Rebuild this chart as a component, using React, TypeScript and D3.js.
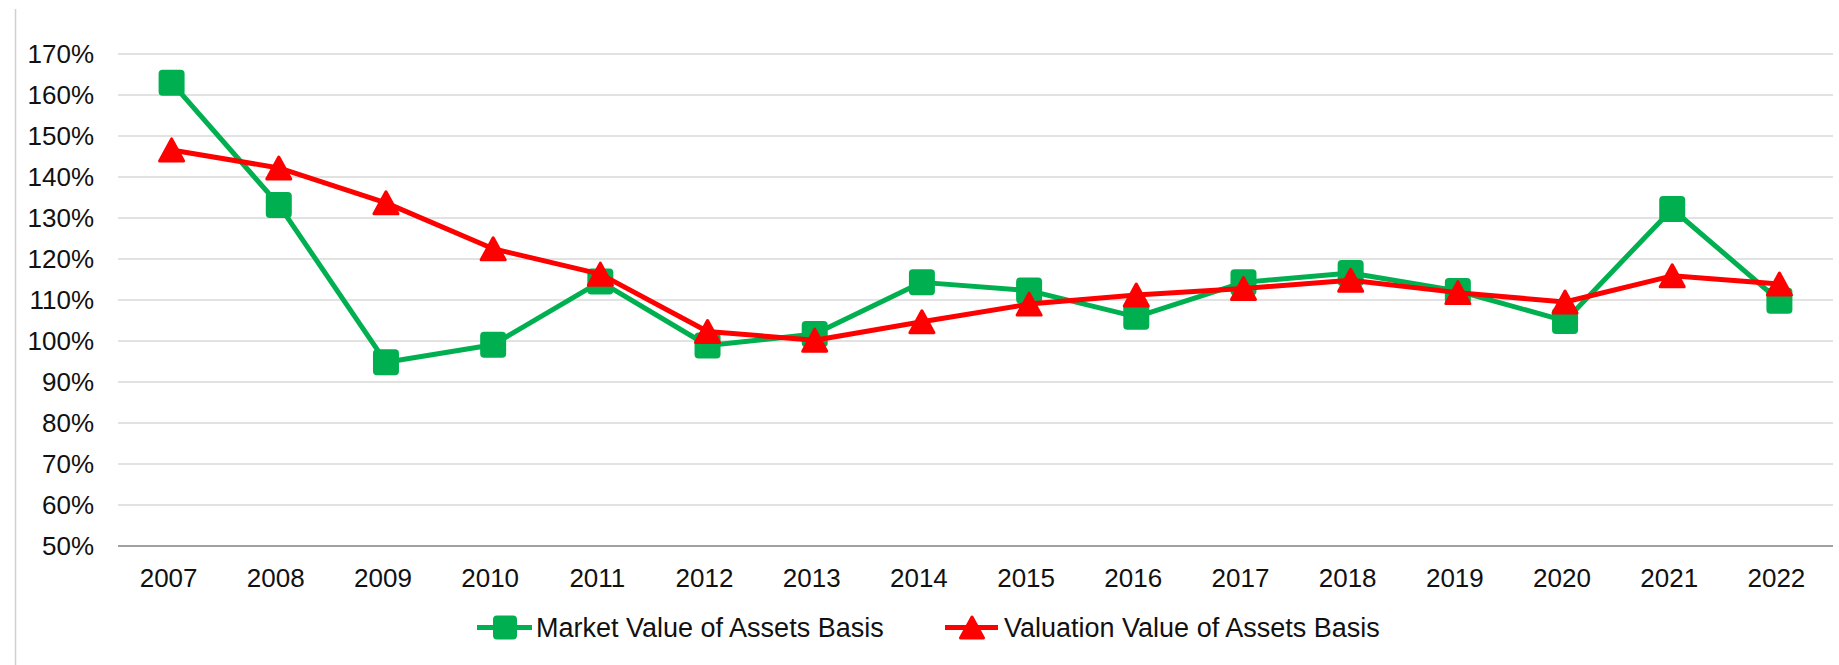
import { useMemo } from 'react';
import * as d3 from 'd3';

const WIDTH = 1839;
const HEIGHT = 665;
const MARGIN = { top: 54, right: 6, bottom: 119, left: 118 };

const years = ['2007', '2008', '2009', '2010', '2011', '2012', '2013', '2014', '2015', '2016', '2017', '2018', '2019', '2020', '2021', '2022'];
const marketValue = [163.0, 133.2, 94.8, 99.1, 114.5, 98.9, 101.7, 114.3, 112.3, 105.9, 114.3, 116.6, 112.2, 104.9, 132.2, 109.8];
const valuationValue = [146.6, 142.2, 133.7, 122.5, 116.3, 102.3, 100.2, 104.7, 109.0, 111.2, 112.8, 114.8, 111.8, 109.5, 115.9, 113.9];
const yTicks = [50, 60, 70, 80, 90, 100, 110, 120, 130, 140, 150, 160, 170];

const GREEN = '#00B050';
const RED = '#FF0000';
const FONT = 'Arial, "Liberation Sans", sans-serif';

type Pt = { year: string; value: number };

const Square = ({ x, y, size = 24 }: { x: number; y: number; size?: number }) => (
  <rect x={x - size / 2} y={y - size / 2} width={size} height={size} rx={3} fill={GREEN} stroke={GREEN} strokeWidth={2} />
);

const Triangle = ({ x, y, size = 22 }: { x: number; y: number; size?: number }) => {
  const h = size / 2;
  const d = `M${x},${y - h} L${x + h + 1},${y + h} L${x - h - 1},${y + h} Z`;
  return <path d={d} fill={RED} stroke={RED} strokeWidth={3} strokeLinejoin="round" />;
};

export default function App() {
  const boundsWidth = WIDTH - MARGIN.left - MARGIN.right;
  const boundsHeight = 546 - MARGIN.top;

  const xScale = useMemo(
    () => d3.scalePoint<string>().domain(years).range([0, boundsWidth]).padding(0.5),
    [boundsWidth]
  );
  const yScale = useMemo(
    () => d3.scaleLinear().domain([50, 170]).range([boundsHeight, 0]),
    [boundsHeight]
  );

  const market: Pt[] = years.map((year, i) => ({ year, value: marketValue[i] }));
  const valuation: Pt[] = years.map((year, i) => ({ year, value: valuationValue[i] }));

  const lineBuilder = d3
    .line<Pt>()
    .x((d) => xScale(d.year) || 0)
    .y((d) => yScale(d.value));

  return (
    <div style={{ position: 'absolute', left: 0, top: 0 }}>
      <svg width={WIDTH} height={HEIGHT} style={{ display: 'block', background: '#fff' }} fontFamily={FONT}>
        {/* chart area left edge */}
        <line x1={15.5} x2={15.5} y1={9} y2={HEIGHT} stroke="#d0d0d0" strokeWidth={1.5} />

        <g transform={`translate(${MARGIN.left},${MARGIN.top})`}>
          {/* gridlines */}
          {yTicks.map((t) =>
            t === 50 ? null : (
              <line key={t} x1={0} x2={boundsWidth} y1={yScale(t)} y2={yScale(t)} stroke="#d9d9d9" strokeWidth={1.5} />
            )
          )}
          {/* y labels */}
          {yTicks.map((t) => (
            <text key={'l' + t} x={-24} y={yScale(t)} dy="0.36em" textAnchor="end" fontSize={26} fill="#111">
              {t}%
            </text>
          ))}
          {/* x axis */}
          <line x1={0} x2={boundsWidth} y1={boundsHeight} y2={boundsHeight} stroke="#a0a0a0" strokeWidth={2} />
          {years.map((y) => (
            <text key={y} x={(xScale(y) || 0) - 3} y={boundsHeight + 41} textAnchor="middle" fontSize={26} fill="#111">
              {y}
            </text>
          ))}

          {/* market series */}
          <path d={lineBuilder(market) || ''} fill="none" stroke={GREEN} strokeWidth={5} strokeLinejoin="round" />
          {market.map((d) => (
            <Square key={d.year} x={xScale(d.year) || 0} y={yScale(d.value)} />
          ))}

          {/* valuation series */}
          <path d={lineBuilder(valuation) || ''} fill="none" stroke={RED} strokeWidth={5} strokeLinejoin="round" />
          {valuation.map((d) => (
            <Triangle key={d.year} x={xScale(d.year) || 0} y={yScale(d.value)} />
          ))}
        </g>

        {/* legend */}
        <g fontSize={27} fill="#111">
          <line x1={477} x2={532} y1={627.5} y2={627.5} stroke={GREEN} strokeWidth={5} />
          <Square x={505} y={627.5} size={22} />
          <text x={536} y={637} fill="#111">Market Value of Assets Basis</text>
          <line x1={945} x2={998} y1={627.5} y2={627.5} stroke={RED} strokeWidth={5} />
          <Triangle x={972} y={627.5} size={21} />
          <text x={1004} y={637} fill="#111">Valuation Value of Assets Basis</text>
        </g>
      </svg>
    </div>
  );
}
